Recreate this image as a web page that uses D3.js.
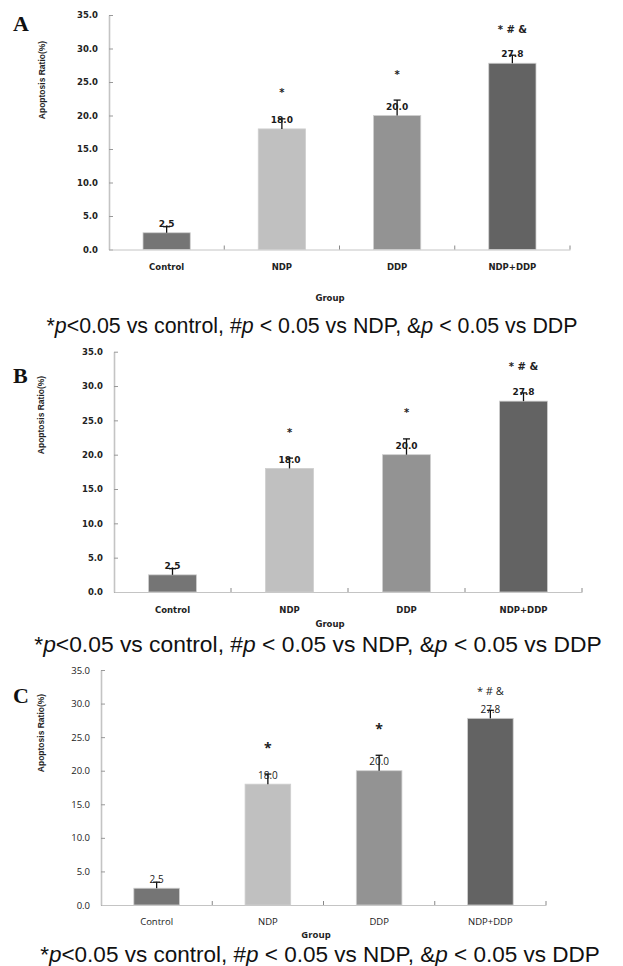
<!DOCTYPE html>
<html lang="en">
<head>
<meta charset="UTF-8">
<title>Apoptosis Ratio</title>
<script src="https://d3js.org/d3.v7.min.js"></script>
<style>
  body { margin: 0; background: #fff; }
  svg { display: block; }
  .domain { stroke: #c4c4c4; }
</style>
</head>
<body>
<svg width="623" height="966"></svg>
<script>
// data (same values in the three panels)
const groups = ["Control", "NDP", "DDP", "NDP+DDP"];
const ratios = [2.5, 18.0, 20.0, 27.8];
const errors = [0.9, 1.5, 2.3, 1.2];
const marks = ["", "*", "*", "* # &"];
const yTicks = [0, 5, 10, 15, 20, 25, 30, 35];
const colors = ["#757575", "#c0c0c0", "#939393", "#636363"];
const note = ["*", "p", "<0.05 vs control, #", "p", " < 0.05 vs NDP, &", "p", " < 0.05 vs DDP"];

// layout of each panel
const panels = [
  { letter: "A", ly: 31, left: 109, right: 570, top: 15, bottom: 249.5, titleX: 42, titleY: 80,
    labY: 264, groupX: 330, groupY: 298, noteX: 312, noteY: 333, noteW: 531, bold: true, fs: 8.5 },
  { letter: "B", ly: 383, left: 114, right: 582, top: 351.7, bottom: 592, titleX: 41, titleY: 415,
    labY: 607, groupX: 330, groupY: 624, noteX: 318, noteY: 652, noteW: 568, bold: true, fs: 8.5 },
  { letter: "C", ly: 703, left: 101, right: 546, top: 670, bottom: 905, titleX: 41, titleY: 733,
    labY: 918, groupX: 316, groupY: 935, noteX: 320, noteY: 962, noteW: 560, bold: false, fs: 9.5 }
];

const svg = d3.select("svg");

panels.forEach(function(p) {
  const g = svg.append("g");
  const weight = p.bold ? "bold" : "normal";
  const font = p.bold ? "DejaVu Sans" : "Open Sans";

  const x = d3.scaleBand().domain(groups).range([p.left, p.right]).padding(0);
  const y = d3.scaleLinear().domain([0, 35]).range([p.bottom, p.top]);
  const bw = x.bandwidth() * 0.41;

  // y axis
  const yAxis = g.append("g")
      .attr("transform", "translate(" + p.left + ",0)")
      .call(d3.axisLeft(y).tickValues(yTicks).tickFormat(d3.format(".1f"))
        .tickSizeInner(-4).tickSizeOuter(0).tickPadding(11));
  yAxis.select(".domain").attr("stroke-width", 1.6);
  yAxis.selectAll(".tick line").attr("stroke", "#999");
  yAxis.selectAll("text")
      .attr("font-family", font).attr("font-weight", weight)
      .attr("font-size", p.fs).attr("fill", "#222");

  // x axis
  const xAxis = g.append("g")
      .attr("transform", "translate(0," + p.bottom + ")")
      .call(d3.axisBottom(x).tickSize(0).tickPadding(p.labY - p.bottom));
  xAxis.select(".domain").attr("stroke", "#aaa").attr("stroke-width", 1);
  xAxis.selectAll("text")
      .attr("font-family", font).attr("font-weight", weight)
      .attr("font-size", p.fs).attr("fill", "#222");

  // band boundary ticks
  const edges = groups.map(function(d) { return x(d); }).concat([x(groups[groups.length - 1]) + x.bandwidth()]);
  g.selectAll(".edge").data(edges.slice(1)).enter().append("line")
      .attr("x1", function(d) { return d; }).attr("x2", function(d) { return d; })
      .attr("y1", p.bottom).attr("y2", p.bottom - 4)
      .attr("stroke", "#888");

  // bars
  g.selectAll(".bar").data(groups).enter().append("rect")
      .attr("x", function(d) { return x(d) + (x.bandwidth() - bw) / 2; })
      .attr("y", function(d, i) { return y(ratios[i]); })
      .attr("width", bw)
      .attr("height", function(d, i) { return y(0) - y(ratios[i]); })
      .attr("fill", function(d, i) { return colors[i]; })
      .attr("stroke", "#cfcfcf").attr("stroke-width", 0.8);

  // error bars (upper only)
  const cx = function(d) { return x(d) + x.bandwidth() / 2; };
  g.selectAll(".err").data(groups).enter().append("line")
      .attr("x1", cx).attr("x2", cx)
      .attr("y1", function(d, i) { return y(ratios[i]); })
      .attr("y2", function(d, i) { return y(ratios[i] + errors[i]); })
      .attr("stroke", "#111").attr("stroke-width", 1.3);
  g.selectAll(".cap").data(groups).enter().append("line")
      .attr("x1", function(d) { return cx(d) - 3.5; }).attr("x2", function(d) { return cx(d) + 3.5; })
      .attr("y1", function(d, i) { return y(ratios[i] + errors[i]); })
      .attr("y2", function(d, i) { return y(ratios[i] + errors[i]); })
      .attr("stroke", "#111").attr("stroke-width", 1.3);

  // value labels
  g.selectAll(".val").data(groups).enter().append("text")
      .attr("x", cx)
      .attr("y", function(d, i) { return y(ratios[i]) - 9; })
      .attr("dy", "0.35em")
      .attr("text-anchor", "middle")
      .attr("font-family", font).attr("font-weight", weight)
      .attr("font-size", p.fs + 0.5).attr("fill", "#1a1a1a")
      .text(function(d, i) { return ratios[i].toFixed(1); });

  // significance marks
  g.selectAll(".mark").data(groups).enter().append("text")
      .attr("x", cx)
      .attr("y", function(d, i) { return y(ratios[i] + errors[i]) - (p.letter === "C" && i === 3 ? 19 : 26); })
      .attr("dy", "0.35em")
      .attr("text-anchor", "middle")
      .attr("font-family", font)
      .attr("font-weight", function(d, i) { return p.letter === "C" && i < 3 ? "bold" : weight; })
      .attr("font-size", function(d, i) { return p.letter === "C" && i < 3 ? 14 : p.fs + 1.5; })
      .attr("fill", "#222")
      .text(function(d, i) { return marks[i]; });

  // axis titles
  g.append("text")
      .attr("transform", "translate(" + p.titleX + "," + p.titleY + ") rotate(-90)")
      .attr("text-anchor", "middle").attr("dy", "0.35em")
      .attr("font-family", "Liberation Sans").attr("font-weight", "bold")
      .attr("font-size", 8.5).attr("fill", "#222")
      .text("Apoptosis Ratio(%)");
  g.append("text")
      .attr("x", p.groupX).attr("y", p.groupY)
      .attr("text-anchor", "middle").attr("dy", "0.35em")
      .attr("font-family", font).attr("font-weight", "bold")
      .attr("font-size", p.fs).attr("fill", "#222")
      .text("Group");

  // panel letter
  g.append("text")
      .attr("x", 13).attr("y", p.ly)
      .attr("font-family", "Liberation Serif").attr("font-weight", "bold")
      .attr("font-size", 22).attr("fill", "#111")
      .text(p.letter);

  // footnote
  const t = g.append("text")
      .attr("x", p.noteX).attr("y", p.noteY)
      .attr("text-anchor", "middle")
      .attr("font-family", "Liberation Sans").attr("font-size", 18).attr("fill", "#111");
  t.selectAll("tspan").data(note).enter().append("tspan")
      .attr("font-style", function(d) { return d === "p" ? "italic" : "normal"; })
      .text(function(d) { return d; });
  const w = t.node().getComputedTextLength();
  t.attr("font-size", 18 * p.noteW / w);
});
</script>
</body>
</html>
